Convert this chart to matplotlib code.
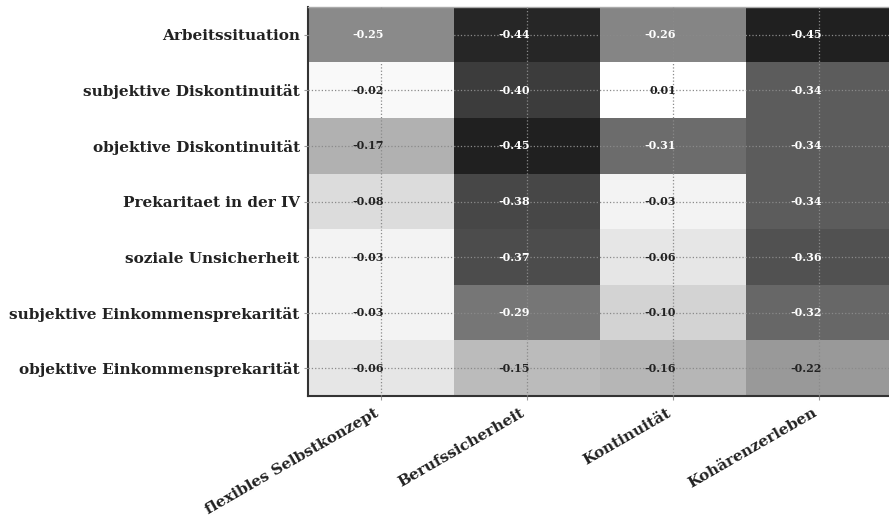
import numpy as np
import matplotlib
matplotlib.use("Agg")
import matplotlib.pyplot as plt
from matplotlib.colors import PowerNorm

# Korrelationen: Prekaritaetsindikatoren (Zeilen) x Identitaetsdimensionen (Spalten)
rows = ["Arbeitssituation",
        "subjektive Diskontinuität",
        "objektive Diskontinuität",
        "Prekaritaet in der IV",
        "soziale Unsicherheit",
        "subjektive Einkommensprekarität",
        "objektive Einkommensprekarität"]
cols = ["flexibles Selbstkonzept", "Berufssicherheit", "Kontinuität", "Kohärenzerleben"]

flex = [-0.25, -0.02, -0.17, -0.08, -0.03, -0.03, -0.06]
beruf = [-0.44, -0.40, -0.45, -0.38, -0.37, -0.29, -0.15]
konti = [-0.26, 0.01, -0.31, -0.03, -0.06, -0.10, -0.16]
kohaer = [-0.45, -0.34, -0.34, -0.34, -0.36, -0.32, -0.22]

corr = np.array([flex, beruf, konti, kohaer]).T

fig = plt.figure(figsize=(8.89, 5.16), dpi=100)
ax = fig.add_axes([308/889, 120/516, 584/889, 389/516])

norm = PowerNorm(gamma=0.9, vmin=-0.50, vmax=-0.005, clip=True)
ax.imshow(corr, cmap="gray", norm=norm, aspect="auto",
          interpolation="nearest", zorder=1)

# Werte rechtsbuendig an der Zellmitte
for i in range(corr.shape[0]):
    for j in range(corr.shape[1]):
        v = corr[i, j]
        ax.text(j + 0.02, i, "%.2f" % v, ha="right", va="center",
                color="white" if v <= -0.25 else "#222222",
                fontsize=8, fontweight="bold", family="DejaVu Serif", zorder=3)

ax.set_xticks(range(len(cols)))
ax.set_yticks(range(len(rows)))
ax.set_xticklabels(cols, rotation=30, ha="right",
                   fontsize=11, fontweight="bold", family="DejaVu Serif", color="#222222")
ax.set_yticklabels(rows, fontsize=11, fontweight="bold", family="DejaVu Serif", color="#222222")
ax.tick_params(axis="x", length=3, color="#999999", pad=4)
ax.tick_params(axis="y", length=3, color="#999999", pad=3)

ax.grid(True, linestyle=":", color="#8a8a8a", linewidth=0.9, zorder=2)
ax.set_axisbelow(False)

for side in ["left", "bottom"]:
    ax.spines[side].set_color("#333333")
    ax.spines[side].set_linewidth(1.5)
ax.spines["top"].set_color("#aaaaaa")
ax.spines["top"].set_linewidth(1.0)
ax.spines["right"].set_visible(False)

fig.savefig("out.png", dpi=100)
